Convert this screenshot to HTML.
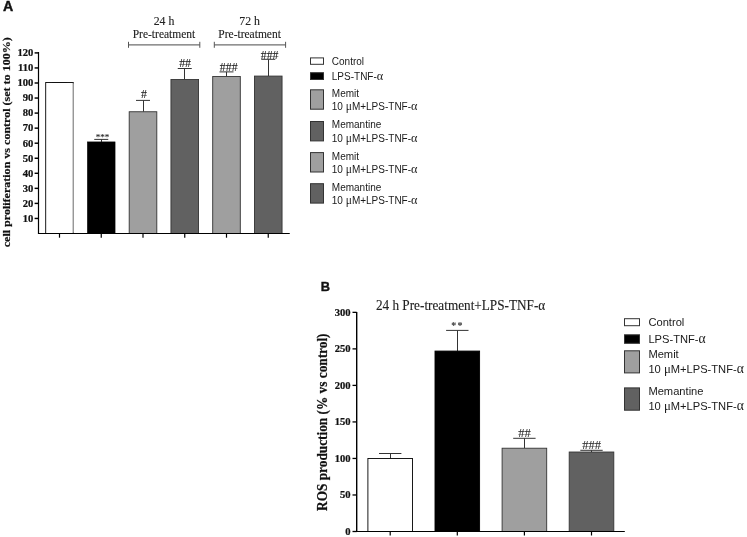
<!DOCTYPE html><html><head><meta charset="utf-8"><title>Figure</title>
<style>html,body{margin:0;padding:0;background:#fff}svg{display:block;will-change:transform}.s{font-family:"Liberation Serif",serif}.a{font-family:"Liberation Sans",sans-serif}.b{font-weight:bold}.s.b{stroke:#111;stroke-width:.22px}.s{stroke:#222;stroke-width:.12px}tspan.s{stroke:none}</style></head><body>
<svg width="747" height="537" viewBox="0 0 747 537">
<rect width="747" height="537" fill="#fff"/>
<text class="a b" transform="translate(3 10.8) scale(1 1.05)" font-size="14.2" fill="#111" stroke="#111" stroke-width=".4">A</text>
<path d="M38.5 52 V234.0 M38.0 233.5 H289.5" stroke="#000" stroke-width="1.2" fill="none"/>
<path d="M34.6 218.45 H38.5" stroke="#000" stroke-width="1.45"/>
<text class="s b" x="33.4" y="221.75" font-size="10.6" text-anchor="end" fill="#111">10</text>
<path d="M34.6 203.40 H38.5" stroke="#000" stroke-width="1.45"/>
<text class="s b" x="33.4" y="206.70" font-size="10.6" text-anchor="end" fill="#111">20</text>
<path d="M34.6 188.35 H38.5" stroke="#000" stroke-width="1.45"/>
<text class="s b" x="33.4" y="191.65" font-size="10.6" text-anchor="end" fill="#111">30</text>
<path d="M34.6 173.30 H38.5" stroke="#000" stroke-width="1.45"/>
<text class="s b" x="33.4" y="176.60" font-size="10.6" text-anchor="end" fill="#111">40</text>
<path d="M34.6 158.25 H38.5" stroke="#000" stroke-width="1.45"/>
<text class="s b" x="33.4" y="161.55" font-size="10.6" text-anchor="end" fill="#111">50</text>
<path d="M34.6 143.20 H38.5" stroke="#000" stroke-width="1.45"/>
<text class="s b" x="33.4" y="146.50" font-size="10.6" text-anchor="end" fill="#111">60</text>
<path d="M34.6 128.15 H38.5" stroke="#000" stroke-width="1.45"/>
<text class="s b" x="33.4" y="131.45" font-size="10.6" text-anchor="end" fill="#111">70</text>
<path d="M34.6 113.10 H38.5" stroke="#000" stroke-width="1.45"/>
<text class="s b" x="33.4" y="116.40" font-size="10.6" text-anchor="end" fill="#111">80</text>
<path d="M34.6 98.05 H38.5" stroke="#000" stroke-width="1.45"/>
<text class="s b" x="33.4" y="101.35" font-size="10.6" text-anchor="end" fill="#111">90</text>
<path d="M34.6 83.00 H38.5" stroke="#000" stroke-width="1.45"/>
<text class="s b" x="33.4" y="86.30" font-size="10.6" text-anchor="end" fill="#111">100</text>
<path d="M34.6 67.95 H38.5" stroke="#000" stroke-width="1.45"/>
<text class="s b" x="33.4" y="71.25" font-size="10.6" text-anchor="end" fill="#111">110</text>
<path d="M34.6 52.90 H38.5" stroke="#000" stroke-width="1.45"/>
<text class="s b" x="33.4" y="56.20" font-size="10.6" text-anchor="end" fill="#111">120</text>
<text class="s b" font-size="12" fill="#111" text-anchor="middle" transform="translate(9.8 142.3) rotate(-90) scale(1.003 0.94)">cell proliferation vs control (set to 100%)</text>
<path d="M59.5 233.5 v4.2" stroke="#000" stroke-width="1.2"/>
<rect x="45.70" y="82.50" width="27.60" height="151.00" fill="#fff" stroke="#000" stroke-width="0.9"/>
<path d="M73.30 83.50 V232.5" stroke="#fff" stroke-width="1.2"/><path d="M73.30 82.50 V233.5" stroke="#777" stroke-width="0.9"/>
<path d="M52.3 82.50 h14.4" stroke="#111" stroke-width="1"/>
<path d="M101.25 233.5 v4.2" stroke="#000" stroke-width="1.2"/>
<path d="M101.5 141.92 V139.4 M94.25 139.4 h14" stroke="#333" stroke-width="1" fill="none"/>
<rect x="87.45" y="141.92" width="27.60" height="91.58" fill="#000" stroke="#000" stroke-width="0.6"/>
<path d="M143.0 233.5 v4.2" stroke="#000" stroke-width="1.2"/>
<path d="M143.5 111.75 V100.4 M136.0 100.4 h14" stroke="#333" stroke-width="1" fill="none"/>
<rect x="129.20" y="111.75" width="27.60" height="121.75" fill="#9f9f9f" stroke="#333" stroke-width="0.9"/>
<path d="M184.75 233.5 v4.2" stroke="#000" stroke-width="1.2"/>
<path d="M184.5 79.54 V68.5 M177.75 68.5 h14" stroke="#333" stroke-width="1" fill="none"/>
<rect x="170.95" y="79.54" width="27.60" height="153.96" fill="#616161" stroke="#333" stroke-width="0.9"/>
<path d="M226.5 233.5 v4.2" stroke="#000" stroke-width="1.2"/>
<path d="M226.5 76.53 V71.9 M219.5 71.9 h14" stroke="#333" stroke-width="1" fill="none"/>
<rect x="212.70" y="76.53" width="27.60" height="156.97" fill="#9f9f9f" stroke="#333" stroke-width="0.9"/>
<path d="M268.25 233.5 v4.2" stroke="#000" stroke-width="1.2"/>
<path d="M268.5 76.08 V59.3 M261.25 59.3 h14" stroke="#333" stroke-width="1" fill="none"/>
<rect x="254.45" y="76.08" width="27.60" height="157.42" fill="#616161" stroke="#333" stroke-width="0.9"/>
<path d="M38.0 233.5 H289.5" stroke="#000" stroke-width="1.2" fill="none"/>
<text class="s" x="102.45" y="140" font-size="9" text-anchor="middle" fill="#222">***</text>
<text class="s" x="144.0" y="98.3" font-size="11.8" text-anchor="middle" fill="#222">#</text>
<text class="s" x="185.05" y="66.5" font-size="11.8" text-anchor="middle" fill="#222">##</text>
<text class="s" x="228.7" y="71.1" font-size="11.8" text-anchor="middle" fill="#222">###</text>
<text class="s" x="269.65" y="58.9" font-size="11.8" text-anchor="middle" fill="#222">###</text>
<path d="M128.5 44.8 H199.8" stroke="#6e6e6e" stroke-width="1.3" fill="none"/><path d="M128.5 41.8 v6 M199.8 41.8 v6" stroke="#555" stroke-width="1" fill="none"/>
<text class="s" x="164" y="24.5" font-size="11.8" text-anchor="middle" fill="#222">24 h</text>
<text class="s" x="164" y="37.9" font-size="11.8" textLength="62.6" lengthAdjust="spacingAndGlyphs" text-anchor="middle" fill="#222">Pre-treatment</text>
<path d="M214.3 44.8 H285.6" stroke="#6e6e6e" stroke-width="1.3" fill="none"/><path d="M214.3 41.8 v6 M285.6 41.8 v6" stroke="#555" stroke-width="1" fill="none"/>
<text class="s" x="249.6" y="24.5" font-size="11.8" text-anchor="middle" fill="#222">72 h</text>
<text class="s" x="249.6" y="37.9" font-size="11.8" textLength="62.6" lengthAdjust="spacingAndGlyphs" text-anchor="middle" fill="#222">Pre-treatment</text>
<rect x="310.5" y="57.9" width="13" height="6.40" fill="#fff" stroke="#333" stroke-width="1"/>
<text class="a" x="331.8" y="64.7" font-size="10" fill="#1a1a1a">Control</text>
<rect x="310.5" y="72.7" width="13" height="6.80" fill="#000" stroke="#333" stroke-width="1"/>
<text class="a" x="331.8" y="79.9" font-size="10" fill="#1a1a1a">LPS-TNF-<tspan class="s" font-size="1.22em">α</tspan></text>
<rect x="310.5" y="89.8" width="13" height="19.40" fill="#9f9f9f" stroke="#333" stroke-width="1"/>
<text class="a" x="331.8" y="96.8" font-size="10" fill="#1a1a1a">Memit</text>
<text class="a" x="331.8" y="109.7" font-size="10" fill="#1a1a1a">10 <tspan class="s" font-size="1.15em">μ</tspan>M+LPS-TNF-<tspan class="s" font-size="1.22em">α</tspan></text>
<rect x="310.5" y="121.5" width="13" height="19.40" fill="#616161" stroke="#333" stroke-width="1"/>
<text class="a" x="331.8" y="128.1" font-size="10" fill="#1a1a1a">Memantine</text>
<text class="a" x="331.8" y="141.7" font-size="10" fill="#1a1a1a">10 <tspan class="s" font-size="1.15em">μ</tspan>M+LPS-TNF-<tspan class="s" font-size="1.22em">α</tspan></text>
<rect x="310.5" y="152.6" width="13" height="19.40" fill="#9f9f9f" stroke="#333" stroke-width="1"/>
<text class="a" x="331.8" y="159.6" font-size="10" fill="#1a1a1a">Memit</text>
<text class="a" x="331.8" y="172.6" font-size="10" fill="#1a1a1a">10 <tspan class="s" font-size="1.15em">μ</tspan>M+LPS-TNF-<tspan class="s" font-size="1.22em">α</tspan></text>
<rect x="310.5" y="183.7" width="13" height="19.40" fill="#616161" stroke="#333" stroke-width="1"/>
<text class="a" x="331.8" y="190.7" font-size="10" fill="#1a1a1a">Memantine</text>
<text class="a" x="331.8" y="203.6" font-size="10" fill="#1a1a1a">10 <tspan class="s" font-size="1.15em">μ</tspan>M+LPS-TNF-<tspan class="s" font-size="1.22em">α</tspan></text>
<text class="a b" transform="translate(320.8 290.6) scale(1 1.07)" font-size="12.8" fill="#111" stroke="#111" stroke-width=".4">B</text>
<path d="M356.7 311.9 V532.1" stroke="#000" stroke-width="1.4" fill="none"/>
<path d="M352.5 531.50 H356.7" stroke="#000" stroke-width="1.3"/>
<text class="s b" x="350.6" y="535.00" font-size="10.6" text-anchor="end" fill="#111">0</text>
<path d="M352.5 494.98 H356.7" stroke="#000" stroke-width="1.3"/>
<text class="s b" x="350.6" y="498.48" font-size="10.6" text-anchor="end" fill="#111">50</text>
<path d="M352.5 458.45 H356.7" stroke="#000" stroke-width="1.3"/>
<text class="s b" x="350.6" y="461.95" font-size="10.6" text-anchor="end" fill="#111">100</text>
<path d="M352.5 421.93 H356.7" stroke="#000" stroke-width="1.3"/>
<text class="s b" x="350.6" y="425.43" font-size="10.6" text-anchor="end" fill="#111">150</text>
<path d="M352.5 385.40 H356.7" stroke="#000" stroke-width="1.3"/>
<text class="s b" x="350.6" y="388.90" font-size="10.6" text-anchor="end" fill="#111">200</text>
<path d="M352.5 348.88 H356.7" stroke="#000" stroke-width="1.3"/>
<text class="s b" x="350.6" y="352.38" font-size="10.6" text-anchor="end" fill="#111">250</text>
<path d="M352.5 312.35 H356.7" stroke="#000" stroke-width="1.3"/>
<text class="s b" x="350.6" y="315.85" font-size="10.6" text-anchor="end" fill="#111">300</text>
<text class="s b" font-size="13.3" fill="#111" text-anchor="middle" transform="translate(326.7 422.2) rotate(-90) scale(1 1.02)">ROS production (% vs control)</text>
<text class="s" transform="translate(375.9 310) scale(1 1.13)" font-size="13.4" textLength="169.4" lengthAdjust="spacingAndGlyphs" fill="#222">24 h Pre-treatment+LPS-TNF-α</text>
<path d="M390.2 531.5 v4" stroke="#000" stroke-width="1.2"/>
<path d="M390.5 458.45 V453.5 M379.0 453.5 h22.4" stroke="#333" stroke-width="1" fill="none"/>
<rect x="367.90" y="458.45" width="44.60" height="73.05" fill="#fff" stroke="#000" stroke-width="0.9"/>
<path d="M457.29999999999995 531.5 v4" stroke="#000" stroke-width="1.2"/>
<path d="M457.5 351.07 V330.4 M446.09999999999997 330.4 h22.4" stroke="#333" stroke-width="1" fill="none"/>
<rect x="435.00" y="351.07" width="44.60" height="180.43" fill="#000" stroke="#000" stroke-width="0.9"/>
<path d="M524.4 531.5 v4" stroke="#000" stroke-width="1.2"/>
<path d="M524.5 448.22 V438.3 M513.1999999999999 438.3 h22.4" stroke="#333" stroke-width="1" fill="none"/>
<rect x="502.10" y="448.22" width="44.60" height="83.28" fill="#9f9f9f" stroke="#333" stroke-width="0.9"/>
<path d="M591.5 531.5 v4" stroke="#000" stroke-width="1.2"/>
<path d="M591.5 452.02 V450.3 M580.3 450.3 h22.4" stroke="#333" stroke-width="1" fill="none"/>
<rect x="569.20" y="452.02" width="44.60" height="79.48" fill="#616161" stroke="#333" stroke-width="0.9"/>
<path d="M356.2 531.5 H624.8" stroke="#000" stroke-width="1.2" fill="none"/>
<text class="s" x="457.59999999999997" y="329.3" font-size="10" letter-spacing="1.3" text-anchor="middle" fill="#222">**</text>
<text class="s" x="524.4" y="437.4" font-size="12.5" text-anchor="middle" fill="#333">##</text>
<text class="s" x="591.5" y="449.3" font-size="12.5" text-anchor="middle" fill="#333">###</text>
<rect x="624.5" y="318.7" width="15" height="7.00" fill="#fff" stroke="#333" stroke-width="1"/>
<text class="a" x="648.4" y="325.6" font-size="11.15" fill="#1a1a1a">Control</text>
<rect x="624.5" y="334.8" width="15" height="8.50" fill="#000" stroke="#333" stroke-width="1"/>
<text class="a" x="648.4" y="343.3" font-size="11.15" fill="#1a1a1a">LPS-TNF-<tspan class="s" font-size="1.22em">α</tspan></text>
<rect x="624.5" y="350.8" width="15" height="22.10" fill="#9f9f9f" stroke="#333" stroke-width="1"/>
<text class="a" x="648.4" y="358.2" font-size="11.15" fill="#1a1a1a">Memit</text>
<text class="a" x="648.4" y="372.8" font-size="11.15" fill="#1a1a1a">10 <tspan class="s" font-size="1.15em">μ</tspan>M+LPS-TNF-<tspan class="s" font-size="1.22em">α</tspan></text>
<rect x="624.5" y="387.9" width="15" height="22.30" fill="#616161" stroke="#333" stroke-width="1"/>
<text class="a" x="648.4" y="395.3" font-size="11.15" fill="#1a1a1a">Memantine</text>
<text class="a" x="648.4" y="409.6" font-size="11.15" fill="#1a1a1a">10 <tspan class="s" font-size="1.15em">μ</tspan>M+LPS-TNF-<tspan class="s" font-size="1.22em">α</tspan></text>
</svg></body></html>
